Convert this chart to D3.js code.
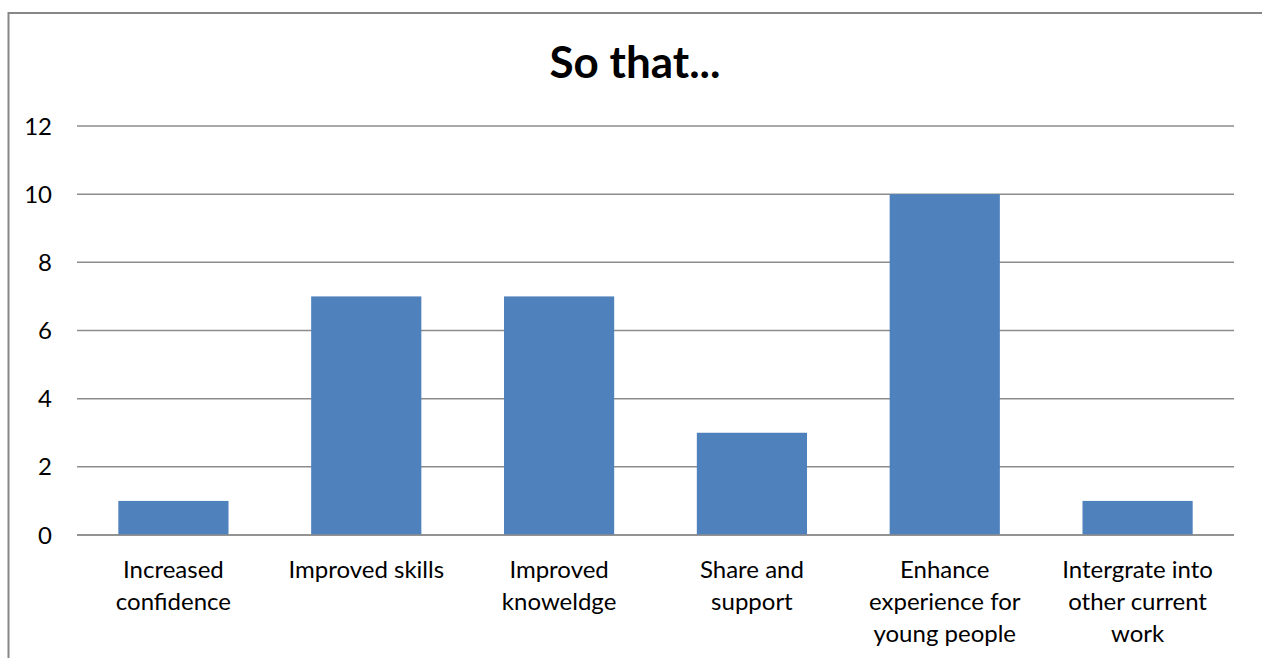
<!DOCTYPE html>
<html>
<head>
<meta charset="utf-8">
<script src="https://cdn.jsdelivr.net/npm/d3@7"></script>
<style>
  html, body { margin: 0; padding: 0; background: #fff; }
  svg { display: block; }
  text { font-family: Lato, "Open Sans", sans-serif; fill: #000; }
</style>
</head>
<body>
<svg id="chart" width="1262" height="658"></svg>
<script>
// Responses: "So that..."
const categories = [
  "Increased confidence",
  "Improved skills",
  "Improved knoweldge",
  "Share and support",
  "Enhance experience for young people",
  "Intergrate into other current work"
];
const values = [1, 7, 7, 3, 10, 1];
// Axis label text, one entry per category, split into display lines
const categoryLines = [
  ["Increased", "confidence"],
  ["Improved skills"],
  ["Improved", "knoweldge"],
  ["Share and", "support"],
  ["Enhance", "experience for", "young people"],
  ["Intergrate into", "other current", "work"]
];
const yTicks = [0, 2, 4, 6, 8, 10, 12];

const svg = d3.select("#chart");

// Chart frame (extends past the right and bottom edges)
svg.append("rect")
  .attr("x", 8.5).attr("y", 13)
  .attr("width", 1300).attr("height", 700)
  .attr("fill", "#fff")
  .attr("stroke", "#878787").attr("stroke-width", 2);

const plot = { left: 77, right: 1234, top: 126, bottom: 535 };

const x = d3.scaleBand()
  .domain(categories)
  .range([plot.left, plot.right])
  .paddingInner(0.75 / 1.75)
  .paddingOuter(0.75 / 3.5);

const y = d3.scaleLinear()
  .domain([0, 12])
  .range([plot.bottom, plot.top]);

// Horizontal gridlines
svg.append("g")
  .selectAll("line")
  .data(yTicks)
  .join("line")
  .attr("x1", plot.left).attr("x2", plot.right)
  .attr("y1", d => y(d)).attr("y2", d => y(d))
  .attr("stroke", "#8c8c8c").attr("stroke-width", 1.5);

// Y axis labels
svg.append("g")
  .selectAll("text")
  .data(yTicks)
  .join("text")
  .attr("x", 52)
  .attr("y", d => y(d))
  .attr("dy", "0.36em")
  .attr("text-anchor", "end")
  .attr("font-size", 24)
  .text(d => d);

// Bars
svg.append("g")
  .selectAll("rect")
  .data(values)
  .join("rect")
  .attr("x", (d, i) => x(categories[i]))
  .attr("y", d => y(d))
  .attr("width", x.bandwidth())
  .attr("height", d => y(0) - y(d))
  .attr("fill", "#4f81bd");

// Redraw baseline over the bars
svg.append("line")
  .attr("x1", plot.left).attr("x2", plot.right)
  .attr("y1", y(0)).attr("y2", y(0))
  .attr("stroke", "#8c8c8c").attr("stroke-width", 1.5);

// Category labels
const labels = svg.append("g")
  .selectAll("text")
  .data(categories)
  .join("text")
  .attr("text-anchor", "middle")
  .attr("font-size", 24)
  .attr("transform", d => `translate(${x(d) + x.bandwidth() / 2},0)`);

labels.selectAll("tspan")
  .data((d, i) => categoryLines[i])
  .join("tspan")
  .attr("x", 0)
  .attr("y", (d, j) => 578 + j * 32)
  .text(d => d);

// Title
svg.append("text")
  .attr("x", 635)
  .attr("y", 78)
  .attr("text-anchor", "middle")
  .attr("font-size", 44)
  .attr("font-weight", "bold")
  .text("So that...");
</script>
</body>
</html>
